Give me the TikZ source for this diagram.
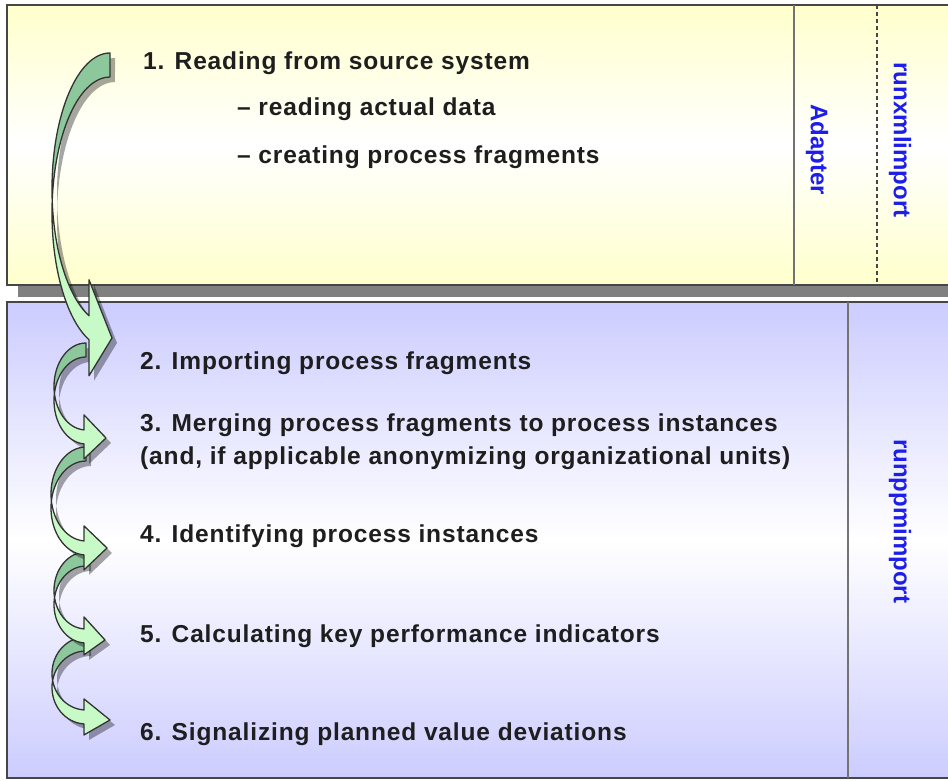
\documentclass[tikz,border=0pt]{standalone}
\usepackage{fontspec}
\setmainfont{Liberation Sans}
\newfontfamily\lblfont[LetterSpace=3.5]{Liberation Sans}
\definecolor{ylw}{RGB}{255,255,204}
\definecolor{lav}{RGB}{204,204,255}
\definecolor{txtc}{RGB}{30,30,30}
\definecolor{bluc}{RGB}{30,30,235}
\definecolor{lgreen}{RGB}{200,250,200}
\definecolor{dgreen}{RGB}{140,200,155}
\definecolor{edge}{RGB}{70,70,70}
\tikzset{
  boxline/.style={draw=edge,line width=1.8pt},
  divline/.style={draw=black!55,line width=2.5pt},
  dashline/.style={draw=edge,line width=1.5pt,dash pattern=on 4pt off 3pt},
  txt/.style={font=\lblfont\bfseries\fontsize{24.5}{28}\selectfont,text=txtc,inner sep=0pt,anchor=base west},
  blu/.style={font=\bfseries\fontsize{24}{28}\selectfont,text=bluc,inner sep=0pt,rotate=-90},
  arrowline/.style={draw=black!80,line width=1.3pt,line join=round}
}
% #1 xr, #2 xl, #3 ytop, #4 b, #5 t, #6 xh, #7 h, #8 tipx, #9 tipy
\newcommand\flowarrow[9]{%
  \pgfmathsetmacro\fa{#1-#2}%
  \pgfmathsetmacro\fth{acos((#6-#1)/\fa)}%
  \pgfmathsetmacro\fy{#3+#4+#4*sin(\fth)}%
  \pgfmathsetmacro\fal{asin(#5/(2*#4))}%
  \pgfmathsetmacro\fla{180-\fal}%
  \pgfmathsetmacro\flb{180+\fal}%
  \def\fpath{(#1,#3) arc[start angle=270,end angle=\fth,x radius=\fa,y radius=#4]
     -- (#6,\fy-#7) -- (#8,#9) -- (#6,\fy+#5+#7) -- (#6,\fy+#5)
     arc[start angle=\fth,end angle=270,x radius=\fa,y radius=#4] -- cycle}%
  \def\flobe{(#1,#3) arc[start angle=270,end angle=\fla,x radius=\fa,y radius=#4]
     arc[start angle=\flb,end angle=270,x radius=\fa,y radius=#4] -- cycle}%
  \fill[black,opacity=.35,shift={(5,5)}] \fpath;
  \fill[lgreen] \fpath;
  \fill[dgreen] \flobe;
  \draw[arrowline] \fpath;
}
\begin{document}
\begin{tikzpicture}[x=1pt,y=-1pt]
\useasboundingbox (0,0) rectangle (948,781);
\clip (0,0) rectangle (948,781);
\fill[white] (0,0) rectangle (948,781);
% top box with shadow
\fill[black!50] (18,286) rectangle (960,297);
\path[top color=ylw,bottom color=ylw,middle color=white] (7,5) rectangle (960,285);
\draw[boxline] (7,5) rectangle (960,285);
\draw[divline] (794,5) -- (794,285);
\draw[dashline] (877,5) -- (877,285);
% bottom box
\path[top color=lav,bottom color=lav,middle color=white] (7,302) rectangle (960,778);
\draw[boxline] (7,302) rectangle (960,778);
\draw[divline] (848,302) -- (848,778);
% vertical labels
\node[blu] (adapter) at (817,150) {Adapter};
\node[blu] (xmlimp) at (900,140) {runxmlimport};
\node[blu] (ppmimp) at (900,521) {runppmimport};
% texts
\node[txt] (t1) at (143,70) {1. Reading from source system};
\node[txt] (t1a) at (237,116) {– reading actual data};
\node[txt] (t1b) at (237,164) {– creating process fragments};
\node[txt] (t2) at (140,369) {2. Importing process fragments};
\node[txt] (t3) at (140,431) {3. Merging process fragments to process instances};
\node[txt] (t3b) at (140,464) {(and, if applicable anonymizing organizational units)};
\node[txt] (t4) at (140,542) {4. Identifying process instances};
\node[txt] (t5) at (140,642) {5. Calculating key performance indicators};
\node[txt] (t6) at (140,740) {6. Signalizing planned value deviations};
% arrows (drawn bottom-up so upper heads lie on top)
\flowarrow{86}{52}{637}{36.5}{14}{84}{11}{110}{720}
\flowarrow{86}{54}{552}{38.5}{14}{84}{12}{105}{640}
\flowarrow{86}{51}{447}{47}{14}{84}{15}{107}{548}
\flowarrow{86}{54}{343}{43.5}{14}{84}{15}{106}{438}
\flowarrow{110}{52}{53}{136}{24}{89}{36}{112}{338}
\end{tikzpicture}
\end{document}
